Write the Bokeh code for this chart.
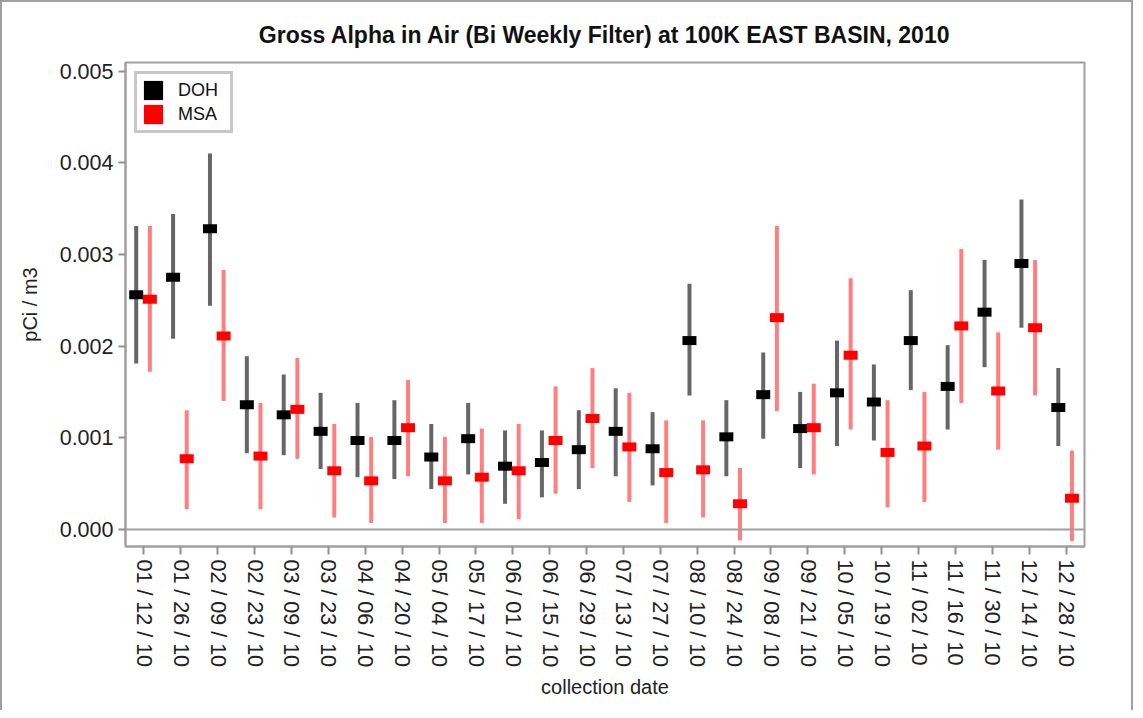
from bokeh.plotting import figure
from bokeh.models import (FactorRange, Range1d, ColumnDataSource, Span, Legend,
                          LegendItem, NumeralTickFormatter, FixedTicker)
from bokeh.transform import dodge
from bokeh.embed import file_html
from bokeh.resources import INLINE

dates = ["01 / 12 / 10", "01 / 26 / 10", "02 / 09 / 10", "02 / 23 / 10", "03 / 09 / 10",
         "03 / 23 / 10", "04 / 06 / 10", "04 / 20 / 10", "05 / 04 / 10", "05 / 17 / 10",
         "06 / 01 / 10", "06 / 15 / 10", "06 / 29 / 10", "07 / 13 / 10", "07 / 27 / 10",
         "08 / 10 / 10", "08 / 24 / 10", "09 / 08 / 10", "09 / 21 / 10", "10 / 05 / 10",
         "10 / 19 / 10", "11 / 02 / 10", "11 / 16 / 10", "11 / 30 / 10", "12 / 14 / 10",
         "12 / 28 / 10"]

doh = [0.00256, 0.00275, 0.00328, 0.00136, 0.00125, 0.00107, 0.00097, 0.00097, 0.00079, 0.00099,
       0.00069, 0.00073, 0.00087, 0.00107, 0.00088, 0.00206, 0.00101, 0.00147, 0.00110, 0.00149,
       0.00139, 0.00206, 0.00156, 0.00237, 0.00290, 0.00133]
doh_lo = [0.00181, 0.00208, 0.00244, 0.00083, 0.00081, 0.00066, 0.00057, 0.00055, 0.00044, 0.00060,
          0.00028, 0.00035, 0.00044, 0.00058, 0.00048, 0.00146, 0.00058, 0.00099, 0.00067, 0.00091,
          0.00097, 0.00152, 0.00109, 0.00177, 0.00220, 0.00091]
doh_hi = [0.00331, 0.00344, 0.00410, 0.00189, 0.00169, 0.00149, 0.00138, 0.00141, 0.00115, 0.00138,
          0.00108, 0.00108, 0.00130, 0.00154, 0.00128, 0.00268, 0.00141, 0.00193, 0.00150, 0.00206,
          0.00180, 0.00261, 0.00201, 0.00294, 0.00360, 0.00176]

msa = [0.00251, 0.00077, 0.00211, 0.00080, 0.00131, 0.00064, 0.00053, 0.00111, 0.00053, 0.00057,
       0.00064, 0.00097, 0.00121, 0.00090, 0.00062, 0.00065, 0.00028, 0.00231, 0.00111, 0.00190,
       0.00084, 0.00091, 0.00222, 0.00151, 0.00220, 0.00034]
msa_lo = [0.00172, 0.00022, 0.00140, 0.00022, 0.00077, 0.00013, 0.00007, 0.00058, 0.00007, 0.00007,
          0.00011, 0.00039, 0.00067, 0.00030, 0.00007, 0.00013, -0.00012, 0.00129, 0.00060, 0.00109,
          0.00024, 0.00030, 0.00138, 0.00087, 0.00146, -0.00013]
msa_hi = [0.00331, 0.00130, 0.00283, 0.00138, 0.00187, 0.00115, 0.00101, 0.00163, 0.00101, 0.00110,
          0.00115, 0.00156, 0.00176, 0.00149, 0.00119, 0.00119, 0.00067, 0.00331, 0.00159, 0.00274,
          0.00141, 0.00150, 0.00306, 0.00215, 0.00294, 0.00086]

y_ticks = [0.0, 0.001, 0.002, 0.003, 0.004, 0.005]

src = ColumnDataSource(dict(date=dates, doh=doh, doh_lo=doh_lo, doh_hi=doh_hi,
                            msa=msa, msa_lo=msa_lo, msa_hi=msa_hi))

FONT = "Liberation Sans"

p = figure(x_range=FactorRange(factors=dates), y_range=Range1d(-0.000186, 0.005093),
           width=1133, height=710, output_backend="svg", toolbar_location=None,
           min_border_left=123, min_border_right=51, min_border_top=60, min_border_bottom=166,
           title="Gross Alpha in Air (Bi Weekly Filter) at 100K EAST BASIN, 2010")

p.title.align = "center"
p.title.text_font = FONT
p.title.text_font_size = "23px"
p.title.text_font_style = "bold"
p.title.text_color = "#111111"
p.title.standoff = 30

p.xgrid.visible = False
p.ygrid.visible = False
p.outline_line_color = "#a0a0a0"
p.outline_line_width = 2

p.add_layout(Span(location=0, dimension="width", line_color="#a0a0a0", line_width=2))

xd = dodge("date", -0.21, range=p.x_range)
xm = dodge("date", 0.16, range=p.x_range)

p.segment(x0=xd, y0="doh_lo", x1=xd, y1="doh_hi", source=src,
          line_color="black", line_alpha=0.6, line_width=4)
p.segment(x0=xm, y0="msa_lo", x1=xm, y1="msa_hi", source=src,
          line_color="#ff0000", line_alpha=0.5, line_width=4)
r_doh = p.rect(x=xd, y="doh", width=14, height=9, width_units="screen", height_units="screen",
               source=src, fill_color="black", line_color=None)
r_msa = p.rect(x=xm, y="msa", width=14, height=9, width_units="screen", height_units="screen",
               source=src, fill_color="#ff0000", line_color=None)

legend = Legend(items=[LegendItem(label="DOH", renderers=[r_doh]),
                       LegendItem(label="MSA", renderers=[r_msa])],
                location="top_left", margin=9, padding=4, spacing=0,
                glyph_width=24, glyph_height=24, label_standoff=13, label_width=48,
                label_text_font=FONT, label_text_font_size="18px", label_text_color="#111111",
                border_line_color="#909090", border_line_width=3,
                background_fill_color="white", background_fill_alpha=1.0)
p.add_layout(legend)

for ax in (p.xaxis[0], p.yaxis[0]):
    ax.axis_line_color = "#a0a0a0"
    ax.axis_line_width = 2
    ax.major_tick_line_color = "#909090"
    ax.major_tick_line_width = 2
    ax.minor_tick_line_color = None
    ax.major_tick_in = 0
    ax.major_label_text_font = FONT
    ax.major_label_text_font_size = "21.5px"
    ax.major_label_text_color = "#222222"
    ax.axis_label_text_font = FONT
    ax.axis_label_text_font_size = "20px"
    ax.axis_label_text_font_style = "normal"
    ax.axis_label_text_color = "#222222"

p.yaxis.ticker = FixedTicker(ticks=y_ticks)
p.yaxis.formatter = NumeralTickFormatter(format="0.000")
p.yaxis.major_tick_out = 7
p.yaxis.axis_label = "pCi / m3"
p.yaxis.axis_label_standoff = 16

p.xaxis.major_tick_out = 8
p.xaxis.major_label_orientation = "vertical"
p.xaxis.major_label_standoff = 5
p.xaxis.axis_label = "collection date"
p.xaxis.axis_label_standoff = 6

p.styles = {"border-left": "2px solid #a0a0a0", "border-top": "2px solid #a0a0a0",
            "border-right": "2px solid #a0a0a0"}

open("out.html", "w").write(file_html(p, INLINE))
